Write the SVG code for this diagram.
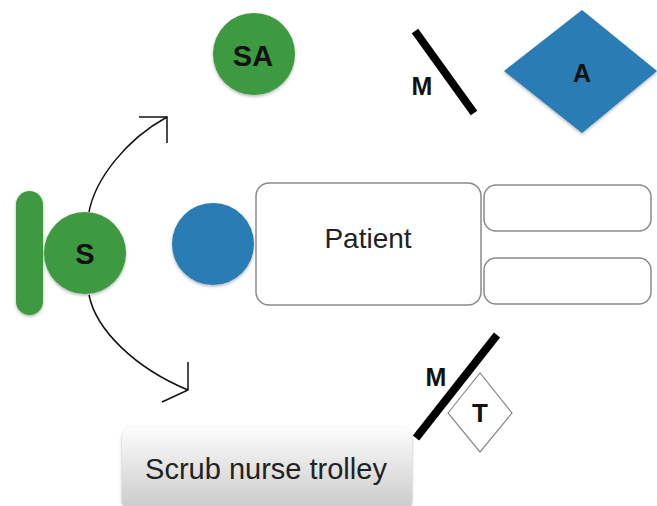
<svg xmlns="http://www.w3.org/2000/svg" width="657" height="506" viewBox="0 0 657 506">
<defs>
<style>
.green{fill:#3d9a3f}
.blue{fill:#2b7cb4}
.box{fill:#fff;stroke:#8a8a8a;stroke-width:1.5}
.lbl{font-family:"Liberation Sans",Arial,sans-serif;font-weight:bold;fill:#111;text-anchor:middle}
.txt{font-family:"Liberation Sans",Arial,sans-serif;fill:#222;text-anchor:middle}
.wall{stroke:#000;stroke-width:8;stroke-linecap:butt}
.conn{fill:none;stroke:#111;stroke-width:1.5}
</style>
<filter id="sh" x="-20%" y="-20%" width="140%" height="140%">
<feDropShadow dx="0" dy="1.5" stdDeviation="1.5" flood-color="#000" flood-opacity="0.3"/>
</filter>
<linearGradient id="trolley" x1="0" y1="0" x2="0" y2="1">
<stop offset="0" stop-color="#fdfdfd"/>
<stop offset="1" stop-color="#c9c9c9"/>
</linearGradient>
</defs>
<rect width="657" height="506" fill="#fff"/>

<g id="connectors">
<path class="conn" d="M89,212 C95,180 125,140 167,117"/>
<polyline class="conn" points="139,117 167,117 167,143"/>
<path class="conn" d="M89,295 C96,330 135,368 188,390"/>
<polyline class="conn" points="188,362 188,390 162,402"/>
</g>

<g id="surgeon-table">
<rect class="green" x="16" y="191" width="27" height="124" rx="13.5" filter="url(#sh)"/>
</g>
<g id="surgeon">
<circle class="green" cx="85" cy="253" r="41" filter="url(#sh)"/>
<text class="lbl" x="85" y="264" font-size="29">S</text>
</g>
<g id="surgical-assistant">
<circle class="green" cx="254" cy="54" r="41" filter="url(#sh)"/>
<text class="lbl" x="253" y="66" font-size="29">SA</text>
</g>
<g id="head">
<circle class="blue" cx="213" cy="244" r="41" filter="url(#sh)"/>
</g>
<g id="patient">
<rect class="box" x="256" y="183" width="225" height="122" rx="13"/>
<text class="txt" x="368" y="248" font-size="28">Patient</text>
</g>
<g id="leg-upper">
<rect class="box" x="484" y="185" width="167" height="46" rx="12"/>
</g>
<g id="leg-lower">
<rect class="box" x="484" y="258" width="167" height="46" rx="12"/>
</g>
<g id="monitor-top">
<line class="wall" x1="415" y1="31" x2="474" y2="113"/>
<text class="lbl" x="422" y="95" font-size="25">M</text>
</g>
<g id="anaesthetist">
<polygon class="blue" points="504,71 582,10 657,71 582,133" filter="url(#sh)"/>
<text class="lbl" x="582" y="82" font-size="25">A</text>
</g>
<g id="monitor-bottom">
<line class="wall" x1="416" y1="438" x2="497" y2="335"/>
<text class="lbl" x="436" y="386" font-size="25">M</text>
</g>
<g id="trolley-t">
<polygon points="448,413 480,373 512,413 480,452" fill="#fff" stroke="#8a8a8a" stroke-width="1.2"/>
<text class="lbl" x="480" y="422" font-size="26">T</text>
</g>
<g id="scrub-nurse-trolley">
<rect x="122" y="427" width="290" height="84" rx="10" fill="url(#trolley)" filter="url(#sh)"/>
<text class="txt" x="266" y="479" font-size="29">Scrub nurse trolley</text>
</g>
</svg>
